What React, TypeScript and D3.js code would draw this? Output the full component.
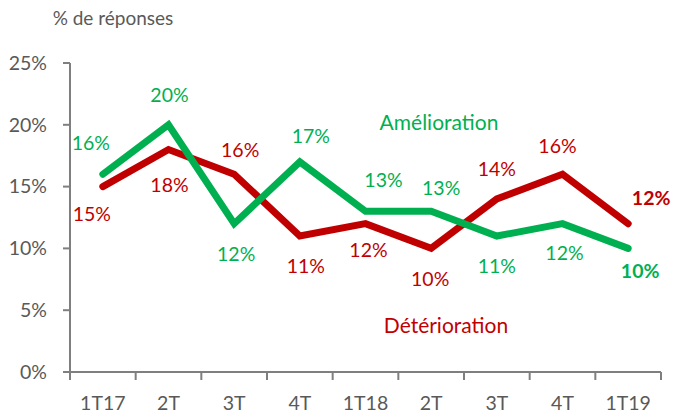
import React from 'react';
import * as d3 from 'd3';

// Quarters on the x axis
const categories = ['1T17', '2T', '3T', '4T', '1T18', '2T', '3T', '4T', '1T19'];
// Share of answers, in %
const amelioration = [16, 20, 12, 17, 13, 13, 11, 12, 10];
const deterioration = [15, 18, 16, 11, 12, 10, 14, 16, 12];
const yTicks = [0, 5, 10, 15, 20, 25];

// label offsets from each point (layout only)
const greenOffsets: [number, number][] = [
  [-12, -31], [1, -30], [2, 30], [11, -26], [18, -31], [10, -23], [0, 30], [2, 29], [12, 23],
];
const redOffsets: [number, number][] = [
  [-11, 28], [1, 36], [6, -24], [6, 30], [3, 26], [-1, 31], [0, -30], [-5, -28], [23, -26],
];

const W = 676, H = 414;
const margin = { top: 63, right: 15, bottom: 42, left: 70 };
const GREEN = '#00B050';
const RED = '#C00000';
const GREY = '#595959';
const AXIS = '#7F7F7F';
const FONT = 'Lato, "Open Sans", sans-serif';
const LABEL = 19.5;

export default function App() {
  const innerW = 661 - margin.left;
  const x = d3.scaleBand<number>().domain(d3.range(categories.length)).range([margin.left, margin.left + innerW]);
  const y = d3.scaleLinear().domain([0, 25]).range([372, 63]);
  const cx = (i: number) => (x(i) as number) + x.bandwidth() / 2;

  const line = d3.line<number>().x((_, i) => cx(i)).y(d => y(d));
  const last = categories.length - 1;

  return (
    <svg width={W} height={H} style={{ position: 'absolute', left: 0, top: 0, fontFamily: FONT }}>
      <text x={113} y={18} dy="0.35em" textAnchor="middle" fontSize={19} fill={GREY}>% de réponses</text>

      {/* y axis */}
      <line x1={margin.left} x2={margin.left} y1={y(25)} y2={y(0)} stroke={AXIS} strokeWidth={2} />
      {yTicks.map(t => (
        <g key={t}>
          <line x1={margin.left - 7} x2={margin.left} y1={y(t)} y2={y(t)} stroke={AXIS} strokeWidth={2} />
          <text x={margin.left - 23} y={y(t)} dy="0.35em" textAnchor="end" fontSize={LABEL} fill={GREY}>{t}%</text>
        </g>
      ))}

      {/* x axis */}
      <line x1={margin.left} x2={margin.left + innerW} y1={y(0)} y2={y(0)} stroke={AXIS} strokeWidth={2} />
      {d3.range(categories.length + 1).map(i => {
        const px = margin.left + i * x.step();
        return <line key={i} x1={px} x2={px} y1={y(0)} y2={y(0) + 8} stroke={AXIS} strokeWidth={2} />;
      })}
      {categories.map((c, i) => (
        <text key={i} x={cx(i)} y={y(0) + 31} dy="0.35em" textAnchor="middle" fontSize={LABEL} fill={GREY}>{c}</text>
      ))}

      {/* lines */}
      <path d={line(deterioration) || ''} fill="none" stroke={RED} strokeWidth={7} strokeLinejoin="miter" strokeLinecap="round" />
      <path d={line(amelioration) || ''} fill="none" stroke={GREEN} strokeWidth={7} strokeLinejoin="miter" strokeLinecap="round" />

      {/* data labels */}
      {amelioration.map((v, i) => (
        <text key={'g' + i} x={cx(i) + greenOffsets[i][0]} y={y(v) + greenOffsets[i][1]} dy="0.35em"
          textAnchor="middle" fontSize={LABEL} fill={GREEN} fontWeight={i === last ? 'bold' : 'normal'}>{v}%</text>
      ))}
      {deterioration.map((v, i) => (
        <text key={'r' + i} x={cx(i) + redOffsets[i][0]} y={y(v) + redOffsets[i][1]} dy="0.35em"
          textAnchor="middle" fontSize={LABEL} fill={RED} fontWeight={i === last ? 'bold' : 'normal'}>{v}%</text>
      ))}

      {/* series names */}
      <text x={439} y={123} dy="0.35em" textAnchor="middle" fontSize={21} fill={GREEN}>Amélioration</text>
      <text x={446} y={326} dy="0.35em" textAnchor="middle" fontSize={21} fill={RED}>Détérioration</text>
    </svg>
  );
}
